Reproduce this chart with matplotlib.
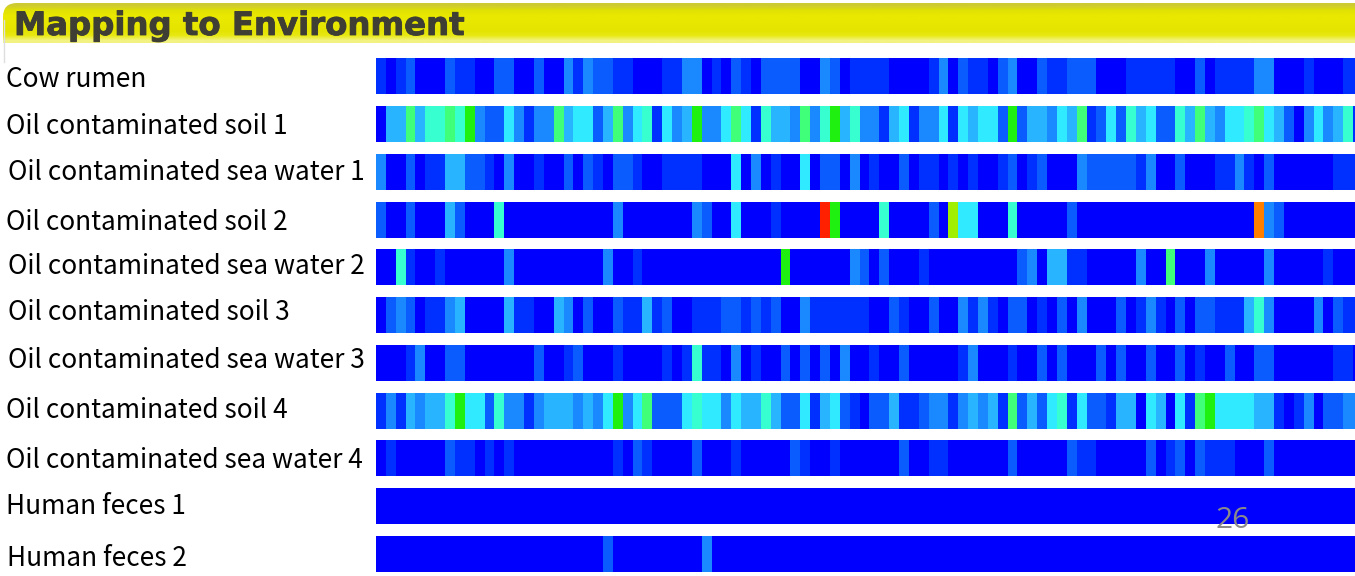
import numpy as np
import matplotlib
matplotlib.use('Agg')
import matplotlib.pyplot as plt
import matplotlib.patheffects as pe
from matplotlib.colors import ListedColormap
from matplotlib.patches import FancyBboxPatch

W, H = 1355, 576

title = "Mapping to Environment"
page_number = "26"

labels = ["Cow rumen", "Oil contaminated soil 1", "Oil contaminated sea water 1",
          "Oil contaminated soil 2", "Oil contaminated sea water 2",
          "Oil contaminated soil 3", "Oil contaminated sea water 3",
          "Oil contaminated soil 4", "Oil contaminated sea water 4",
          "Human feces 1", "Human feces 2"]

# heat level per cell, 0 = blue ... 11 = red
cow_rumen = [1,0,1,2,0,0,0,2,1,1, 0,0,2,2,0,0,2,0,0,3, 1,3,2,2,1,1,0,0,0,1,
             1,3,3,0,1,0,2,1,0,2, 2,2,2,0,0,3,2,0,1,1,
             1,1,0,0,0,0,1,3,0,2, 1,1,0,2,3,0,0,2,1,1, 2,2,2,0,0,0,1,1,1,1,
             1,0,0,2,0,1,1,1,1,3, 3,0,0,0,1,0,0,0,1,1]
soil_1 = [0,4,4,7,4,6,6,7,6,8, 3,2,2,5,3,1,3,3,7,4, 5,5,2,4,7,3,5,6,1,5,
          3,4,8,3,3,5,7,5,1,6, 4,4,3,7,3,6,8,4,6,3,
          3,1,4,5,1,3,3,5,1,5, 4,5,5,2,8,2,4,4,3,5, 4,7,1,2,5,2,6,4,5,2,
          2,6,4,7,4,3,5,5,6,7, 5,4,2,0,3,5,3,4,6,1]
sea_water_1 = [3,0,0,2,0,1,1,4,4,2, 2,1,0,3,0,0,1,0,0,2, 0,2,1,0,2,2,1,0,0,1,
               1,1,1,0,0,0,5,0,3,0, 1,0,0,5,0,2,2,0,3,0,
               1,0,0,2,0,1,1,0,1,0, 1,0,0,1,2,0,1,2,0,0, 0,3,2,2,2,2,2,1,3,0,
               0,2,0,0,0,1,1,3,1,0, 2,0,0,0,0,0,0,1,1,1]
soil_2 = [2,0,0,2,0,0,0,4,2,0, 0,0,6,0,0,0,0,0,0,0, 0,0,0,0,3,0,0,0,0,0,
          0,0,3,2,0,0,5,0,0,0, 1,0,0,0,0,11,8,0,0,0,
          0,6,0,0,0,0,2,0,9,5, 5,0,0,0,6,0,0,0,0,0, 2,0,0,0,0,0,0,0,0,0,
          0,0,0,0,0,0,0,0,0,10, 3,2,0,0,0,0,0,0,0,0]
sea_water_2 = [0,0,6,1,0,0,1,0,0,0, 0,0,0,3,0,0,0,0,0,0, 0,0,0,3,0,0,1,0,0,0,
               0,0,0,0,0,0,0,0,0,0, 0,8,0,0,0,0,0,0,3,2,
               0,2,0,0,0,1,0,0,0,0, 0,0,0,0,0,2,3,0,4,4, 1,1,0,0,0,0,0,3,0,0,
               7,0,0,0,3,0,0,0,0,0, 3,0,0,0,0,0,1,0,0,0]
soil_3 = [0,2,3,2,0,1,1,3,4,0, 0,0,0,4,1,1,0,0,4,3, 0,2,0,0,2,1,1,4,1,2,
          0,0,1,1,1,2,2,1,2,1, 2,0,0,3,1,1,1,1,1,1,
          0,0,2,1,0,0,2,0,0,3, 1,3,1,0,2,2,0,1,0,2, 0,3,0,0,0,2,0,1,3,1,
          0,2,0,2,2,1,1,1,4,6, 3,0,0,0,0,3,0,2,1,1]
sea_water_3 = [0,0,0,1,3,0,0,2,2,0, 0,0,0,0,0,0,2,0,0,1, 2,0,0,0,1,0,0,0,0,1,
               0,1,6,1,1,0,3,0,1,0, 0,2,0,2,0,2,0,3,0,0,
               1,0,0,2,0,0,0,0,0,1, 3,0,0,0,1,0,0,2,0,2, 0,0,0,2,0,2,0,0,2,0,
               0,2,0,1,0,0,2,0,0,2, 2,0,0,0,0,0,0,1,1,0]
soil_4 = [1,3,1,4,3,4,4,6,8,5, 5,2,6,3,3,1,3,4,4,4, 3,4,3,5,8,3,5,7,2,2,
          2,5,6,5,5,3,5,4,4,6, 4,2,2,5,1,4,5,2,1,0,
          2,2,4,1,1,2,3,3,1,3, 4,3,4,1,7,2,4,2,5,6, 1,5,2,2,1,4,4,0,5,4,
          0,5,1,7,8,5,5,5,5,4, 4,1,0,1,3,0,2,2,3,3]
sea_water_4 = [0,1,0,0,0,0,0,2,1,1, 0,1,0,1,0,0,0,0,0,0, 0,0,0,0,1,0,2,1,0,0,
               0,0,2,0,0,0,1,0,0,0, 0,0,2,1,0,0,1,0,0,0,
               0,0,0,2,0,0,1,1,0,0, 0,0,0,0,2,0,0,0,0,0, 2,1,1,0,0,0,0,0,2,0,
               1,2,0,2,1,1,1,0,0,0, 2,0,0,0,0,0,0,0,0,0]
feces_1 = [0] * 100
feces_2 = [0,0,0,0,0,0,0,0,0,0, 0,0,0,0,0,0,0,0,0,0, 0,0,0,2,0,0,0,0,0,0,
           0,0,0,3,0,0,0,0,0,0, 0,0,0,0,0,0,0,0,0,0] + [0] * 50

rows = [cow_rumen, soil_1, sea_water_1, soil_2, sea_water_2, soil_3,
        sea_water_3, soil_4, sea_water_4, feces_1, feces_2]

heat_colors = ['#0000ff', '#0030ff', '#0a5cff', '#1a88ff', '#28b4ff', '#30eaff',
               '#38ffd0', '#40ff78', '#20f010', '#a0ee00', '#ff8000', '#ff2000']
heat = ListedColormap(heat_colors)

fig = plt.figure(figsize=(W / 100, H / 100), dpi=100)

# page coordinates in pixels for the header and the row labels
bg = fig.add_axes([0, 0, 1, 1])
bg.set_xlim(0, W)
bg.set_ylim(H, 0)
bg.axis('off')

band = np.array([[205, 203, 50], [225, 225, 5], [232, 232, 0], [232, 232, 0],
                 [230, 230, 0], [228, 228, 0], [232, 232, 20], [242, 242, 130]]) / 255
im = bg.imshow(band[:, None, :], extent=[3, W + 30, 43, 3], aspect='auto',
               interpolation='bilinear')
clip = FancyBboxPatch((3, 3), W + 30, 60, boxstyle='round,pad=0,rounding_size=14',
                      transform=bg.transData, fc='none', ec='none')
bg.add_patch(clip)
im.set_clip_path(clip)
bg.set_xlim(0, W)
bg.set_ylim(H, 0)
bg.plot([3.5, 3.5], [20, 62], color='#dedede', lw=1)

bg.text(14, 26.5, title, fontsize=23.3, fontweight='bold', family='DejaVu Sans',
        color='#3e3e34', va='center', ha='left',
        path_effects=[pe.withStroke(linewidth=0.6, foreground='#3e3e34')])

label_x = [6, 6, 8, 6, 8, 8, 8, 6, 6, 6, 7]
label_y = [79.5, 126, 173, 223, 266, 313, 361, 410, 460, 507, 558]
for txt, lx, ly in zip(labels, label_x, label_y):
    bg.text(lx, ly, txt, fontsize=18.9, family='Noto Sans CJK JP', color='black',
            va='center', ha='left')

# heat strips, one row per sample
top = 58.3
pitch = 47.75
strip = 36.0
ax = fig.add_axes([376 / W, 0, (W - 376) / W, 1])
ax.set_xlim(0, 99.2)
ax.set_ylim(H, 0)
ax.axis('off')
for i, row in enumerate(rows):
    y0 = top + i * pitch
    ax.pcolormesh(np.arange(len(row) + 1), [y0, y0 + strip], np.array(row)[None, :],
                  cmap=heat, vmin=-0.5, vmax=11.5, shading='flat', linewidth=0,
                  rasterized=True)

bg.set_zorder(0)
ax.set_zorder(1)
fig.text(1232.5 / W, 1 - 521 / H, page_number, fontsize=21.5, family='Open Sans',
         color='#8a8a8a', ha='center', va='center', zorder=5)

fig.savefig('out.png', dpi=100)
